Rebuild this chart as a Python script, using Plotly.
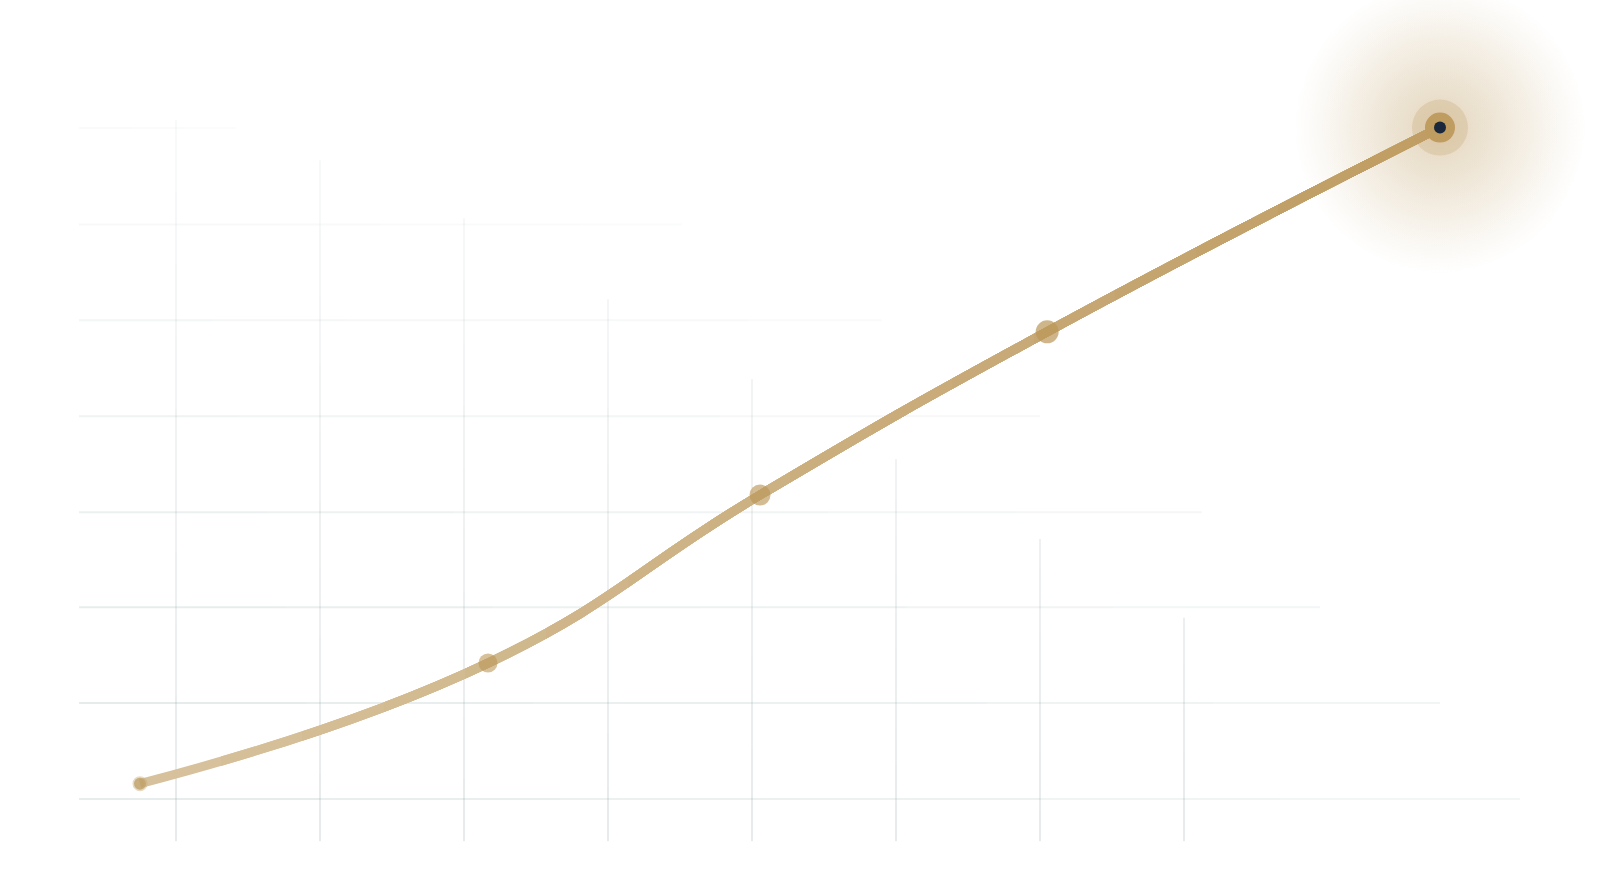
import plotly.graph_objects as go

# ---- data ----
x_vals = [8.75, 30.5, 47.5, 65.45, 90.0]
y_vals = [10.95, 24.65, 43.75, 62.3, 85.5]

grid_rows = [85.45, 74.5, 63.6, 52.7, 41.8, 31.0, 20.1, 9.2]
grid_row_ends = [14.8, 42.6, 55.1, 65.0, 75.1, 82.5, 90.0, 95.0]
grid_row_start = 4.94
grid_cols = [11.0, 20.0, 29.0, 38.0, 47.0, 56.0, 65.0, 74.0]
grid_col_tops = [86.4, 81.8, 75.2, 66.0, 56.9, 47.8, 38.75, 29.8]
grid_col_bottom = 4.4

GOLD = (191, 157, 98)
W, H = 1600, 880


def blend(a, base=GOLD):
    return "rgb(%d,%d,%d)" % tuple(round(255 - (255 - c) * a) for c in base)


def rgba(base, a):
    return "rgba(%d,%d,%d,%.3f)" % (base[0], base[1], base[2], a)


fig = go.Figure()
shapes = []

# ---- grid: horizontal lines (fainter toward top and toward right end) ----
row_alpha = [0.045, 0.06, 0.08, 0.105, 0.135, 0.16, 0.17, 0.16]
HCOL = (105, 145, 140)
for yv, xe, a in zip(grid_rows, grid_row_ends, row_alpha):
    n = 6
    for i in range(n):
        x0 = grid_row_start + (xe - grid_row_start) * i / n
        x1 = grid_row_start + (xe - grid_row_start) * (i + 1) / n
        f = 1.0 - 0.45 * (i / (n - 1))
        shapes.append(dict(type="line", xref="x", yref="y", x0=x0, x1=x1, y0=yv, y1=yv,
                           line=dict(color=rgba(HCOL, a * f), width=2), layer="below"))

# ---- grid: vertical lines (fade toward top) ----
VCOL = (115, 135, 140)
for xv, yt in zip(grid_cols, grid_col_tops):
    n = 10
    for i in range(n):
        y0 = grid_col_bottom + (yt - grid_col_bottom) * i / n
        y1 = grid_col_bottom + (yt - grid_col_bottom) * (i + 1) / n
        ym = (y0 + y1) / 2
        t = (ym - grid_col_bottom) / (90 - grid_col_bottom)
        a = 0.17 - 0.13 * t
        shapes.append(dict(type="line", xref="x", yref="y", x0=xv, x1=xv, y0=y0, y1=y1,
                           line=dict(color=rgba(VCOL, a), width=2), layer="below"))

# ---- glow behind the last point (radial: gradient.color is the centre) ----
for size, a in [(292, 0.35), (240, 0.10)]:
    fig.add_trace(go.Scatter(
        x=x_vals[-1:], y=y_vals[-1:], mode="markers", xaxis="x", yaxis="y",
        marker=dict(size=size, color=rgba(GOLD, 0.0),
                    gradient=dict(type="radial", color=rgba(GOLD, a)),
                    line=dict(width=0)),
        hoverinfo="skip", showlegend=False, cliponaxis=False))

# ---- line with a colour gradient: stacked clipped layers ----
N = 16
px0, px1 = x_vals[0] * 16, x_vals[-1] * 16
layout_axes = {}
for k in range(N):
    a = 0.62 + 0.38 * ((k + 0.5) / N)
    if k == 0:
        axname, axref = "xaxis", "x"
        dom0 = 0.0
    else:
        axname, axref = "xaxis%d" % (k + 1), "x%d" % (k + 1)
        bpx = round(px0 + k * (px1 - px0) / N)
        dom0 = bpx / W
    layout_axes[axname] = dict(domain=[dom0, 1.0], range=[dom0 * 100, 100], visible=False,
                               anchor="y", fixedrange=True)
    fig.add_trace(go.Scatter(
        x=x_vals, y=y_vals, mode="lines", xaxis=axref, yaxis="y",
        line=dict(color=blend(a), width=9, shape="spline", smoothing=1.3),
        hoverinfo="skip", showlegend=False))

# ---- markers on a top overlay axis ----
MK = "x%d" % (N + 1)
layout_axes["xaxis%d" % (N + 1)] = dict(domain=[0, 1], range=[0, 100], visible=False,
                                         anchor="y", fixedrange=True)
fig.add_trace(go.Scatter(
    x=x_vals[:1], y=y_vals[:1], mode="markers", xaxis=MK, yaxis="y",
    marker=dict(size=12, color="rgba(192,160,104,0.85)",
                line=dict(width=3, color="rgba(200,172,122,0.45)")),
    hoverinfo="skip", showlegend=False, cliponaxis=False))
mid_sizes = [19, 21, 23]
mid_alpha = [0.85, 0.92, 1.0]
fig.add_trace(go.Scatter(
    x=x_vals[1:4], y=y_vals[1:4], mode="markers", xaxis=MK, yaxis="y",
    marker=dict(size=mid_sizes, color=[rgba((187, 151, 88), a) for a in mid_alpha],
                line=dict(width=0)),
    hoverinfo="skip", showlegend=False, cliponaxis=False))
fig.add_trace(go.Scatter(
    x=x_vals[-1:], y=y_vals[-1:], mode="markers", xaxis=MK, yaxis="y",
    marker=dict(size=56, color=rgba(GOLD, 0.25), line=dict(width=0)),
    hoverinfo="skip", showlegend=False, cliponaxis=False))
fig.add_trace(go.Scatter(
    x=x_vals[-1:], y=y_vals[-1:], mode="markers", xaxis=MK, yaxis="y",
    marker=dict(size=30, color="#bf9c5f", line=dict(width=0)),
    hoverinfo="skip", showlegend=False, cliponaxis=False))
fig.add_trace(go.Scatter(
    x=x_vals[-1:], y=y_vals[-1:], mode="markers", xaxis=MK, yaxis="y",
    marker=dict(size=12, color="#1b283b", line=dict(width=0)),
    hoverinfo="skip", showlegend=False, cliponaxis=False))

fig.update_layout(
    width=W, height=H,
    margin=dict(l=0, r=0, t=0, b=0),
    paper_bgcolor="white", plot_bgcolor="rgba(0,0,0,0)",
    showlegend=False,
    yaxis=dict(domain=[0, 1], range=[0, 100], visible=False, anchor="x", fixedrange=True),
    shapes=shapes,
    **layout_axes,
)

fig.write_html("out.html", config={"displayModeBar": False})
